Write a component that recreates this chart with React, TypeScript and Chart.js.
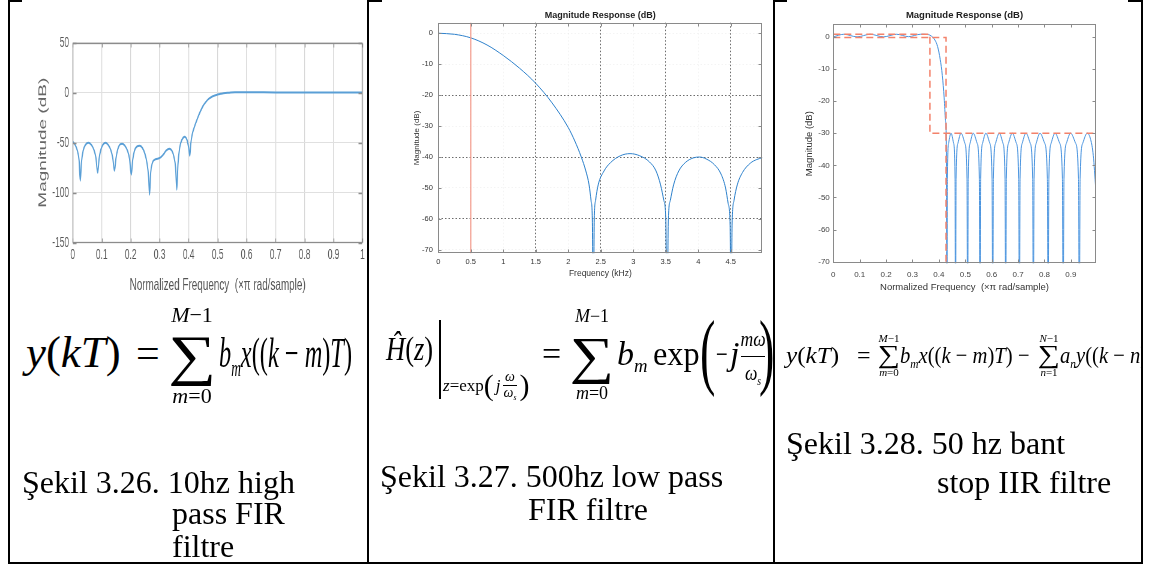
import React, { useEffect, useRef } from 'react';
import { Chart, registerables } from 'chart.js';

Chart.register(...registerables);

const SANS = "'Liberation Sans', Arial, Helvetica, sans-serif";
const SERIF = "'Liberation Serif', 'Times New Roman', Times, serif";

// ---------- Şekil 3.26 : 10 Hz high-pass FIR ----------
const hpFreq = [0, 0.008, 0.016, 0.022, 0.026, 0.03, 0.036, 0.044, 0.054, 0.064, 0.073, 0.08, 0.086, 0.091, 0.097, 0.104, 0.113, 0.122, 0.131, 0.138, 0.144, 0.149, 0.155, 0.162, 0.171, 0.18, 0.189, 0.196, 0.202, 0.207, 0.213, 0.221, 0.231, 0.24, 0.249, 0.256, 0.262, 0.265, 0.269, 0.275, 0.283, 0.292, 0.302, 0.312, 0.322, 0.333, 0.342, 0.349, 0.355, 0.359, 0.363, 0.369, 0.377, 0.386, 0.394, 0.4, 0.404, 0.407, 0.412, 0.42, 0.43, 0.44, 0.45, 0.46, 0.47, 0.48, 0.49, 0.5, 0.51, 0.52, 0.54, 0.56, 0.6, 0.7, 0.8, 0.9, 1.0];
const hpMag = [-49, -52, -58, -68, -88, -70, -58, -52, -50, -52, -57, -65, -80, -66, -57, -52, -50, -52, -57, -65, -78, -66, -57, -52, -51, -53, -58, -66, -82, -67, -58, -54, -53, -55, -61, -70, -85, -102, -80, -70, -67, -66, -65, -62, -58, -56, -58, -64, -75, -97, -72, -55, -47, -44, -47, -55, -63, -52, -42, -34, -26, -19, -13, -9, -6, -4, -2.8, -1.8, -1.1, -0.5, 0, 0.4, 0.5, 0.3, 0.2, 0.2, 0.1];
const hpXTicks = [0, 0.1, 0.2, 0.3, 0.4, 0.5, 0.6, 0.7, 0.8, 0.9, 1];
const hpYTicks = [-150, -100, -50, 0, 50];

// ---------- Şekil 3.27 : 500 Hz low-pass FIR ----------
const lpFreq = [0, 0.25, 0.5, 0.75, 1.0, 1.25, 1.5, 1.75, 2.0, 2.1, 2.2, 2.27, 2.32, 2.35, 2.37, 2.385, 2.4, 2.42, 2.46, 2.55, 2.65, 2.8, 2.95, 3.1, 3.25, 3.35, 3.42, 3.47, 3.5, 3.52, 3.54, 3.57, 3.62, 3.7, 3.8, 3.92, 4.02, 4.12, 4.25, 4.35, 4.42, 4.46, 4.49, 4.505, 4.52, 4.55, 4.6, 4.68, 4.8, 4.9, 4.99];
const lpMag = [0, -0.35, -1.5, -3.8, -7.2, -11.3, -16.2, -22.5, -30.5, -34.8, -40, -44.5, -49, -54, -60, -90, -60, -54, -49, -44.5, -41.8, -39.6, -38.9, -39.6, -41.6, -44.5, -49, -54, -60, -90, -60, -54, -49, -44.5, -41.8, -40.3, -40, -40.6, -42.5, -45.5, -50, -55, -62, -90, -62, -54, -49, -45, -42, -40.8, -40.2];
const lpMarkerX = [0.5, 0.5];
const lpMarkerY = [10, -100];
const lpXTicks = [0, 0.5, 1, 1.5, 2, 2.5, 3, 3.5, 4, 4.5];
const lpYTicks = [-70, -60, -50, -40, -30, -20, -10, 0];
const lpStrongX = [1.5, 2.5, 3.5, 4.5];
const lpStrongY = [-20, -40, -60];

// ---------- Şekil 3.28 : 50 Hz band-stop IIR ----------
const bsFreq = [0, 0.04, 0.09, 0.14, 0.19, 0.24, 0.285, 0.33, 0.36, 0.372, 0.385, 0.395, 0.405, 0.413, 0.42, 0.425, 0.4285, 0.4305,
  0.4321, 0.4372, 0.446, 0.4554, 0.4613, 0.463,
  0.4651, 0.4725, 0.484, 0.4978, 0.5065, 0.509,
  0.5111, 0.5186, 0.53, 0.5443, 0.5534, 0.556,
  0.5582, 0.5659, 0.578, 0.5923, 0.6014, 0.604,
  0.6065, 0.6152, 0.629, 0.6422, 0.6506, 0.653,
  0.6555, 0.6642, 0.678, 0.6929, 0.7023, 0.705,
  0.7075, 0.7162, 0.73, 0.7454, 0.7552, 0.758,
  0.7605, 0.7692, 0.783, 0.8, 0.8109, 0.814,
  0.8166, 0.8257, 0.84, 0.857, 0.8679, 0.871,
  0.8738, 0.8836, 0.899, 0.9172, 0.9287, 0.932,
  0.935, 0.9455, 0.962, 0.975, 0.985, 0.994];
const bsMag = [0, 0.8, 0, 0.8, 0, 0.8, 0.05, 0.8, 0.7, 0.2, -1, -3, -7, -12, -19, -26, -35, -90,
  -44, -33, -30, -33, -44, -90,
  -44, -33, -30, -33, -44, -90,
  -44, -33, -30, -33, -44, -90,
  -44, -33, -30, -33, -44, -90,
  -44, -33, -30, -33, -44, -90,
  -44, -33, -30, -33, -44, -90,
  -44, -33, -30, -33, -44, -90,
  -44, -33, -30, -33, -44, -90,
  -44, -33, -30, -33, -44, -90,
  -44, -33, -30, -33, -44, -90,
  -44, -33, -30, -32, -37, -47];
const bsMaskUpperX = [0, 0.366, 0.366, 1.0];
const bsMaskUpperY = [0.8, 0.8, -30, -30];
const bsMaskLowerX = [0, 0.427, 0.427];
const bsMaskLowerY = [-0.2, -0.2, -75];
const bsXTicks = [0, 0.1, 0.2, 0.3, 0.4, 0.5, 0.6, 0.7, 0.8, 0.9];
const bsYTicks = [-70, -60, -50, -40, -30, -20, -10, 0];

const pts = (xs: number[], ys: number[]) => xs.map((x, i) => ({ x, y: ys[i] }));
const fixTicks = (vals: number[]) => (scale: any) => {
  scale.ticks = vals.map((v) => ({ value: v }));
};
const lbl = (v: any) => String(v);

// MATLAB-like axes box with inward tick marks
const matBox = {
  id: 'matBox',
  afterDatasetsDraw(chart: any, _a: any, opts: any) {
    const { ctx, chartArea } = chart;
    const xs = chart.scales.x;
    const ys = chart.scales.y;
    const L = Math.round(chartArea.left) + 0.5;
    const R = Math.round(chartArea.right) - 0.5;
    const T = Math.round(chartArea.top) + 0.5;
    const B = Math.round(chartArea.bottom) - 0.5;
    const len = opts.len ?? 3;
    const lenX = opts.lenX ?? len;
    ctx.save();
    ctx.strokeStyle = opts.color || '#888';
    ctx.lineWidth = opts.width || 1;
    ctx.setLineDash([]);
    ctx.strokeRect(L, T, R - L, B - T);
    ctx.beginPath();
    xs.ticks.forEach((t: any) => {
      const p = Math.round(xs.getPixelForValue(t.value)) + 0.5;
      ctx.moveTo(p, B); ctx.lineTo(p, B - len);
      ctx.moveTo(p, T); ctx.lineTo(p, T + len);
    });
    ys.ticks.forEach((t: any) => {
      const p = Math.round(ys.getPixelForValue(t.value)) + 0.5;
      ctx.moveTo(L, p); ctx.lineTo(L + lenX, p);
      ctx.moveTo(R, p); ctx.lineTo(R - lenX, p);
    });
    ctx.stroke();
    ctx.restore();
  },
};

const baseOpts = {
  animation: false,
  responsive: false,
  devicePixelRatio: 1,
  events: [],
};

// chart 1 is drawn on a wider canvas and squeezed horizontally (like the reference picture)
const HP_SX = 0.6;

function makeHp(): any {
  return {
    type: 'line',
    data: {
      datasets: [{ data: pts(hpFreq, hpMag), borderColor: '#5a9fd6', borderWidth: 2, pointRadius: 0, cubicInterpolationMode: 'monotone', fill: false }],
    },
    options: {
      ...baseOpts,
      layout: { padding: { top: 17.7, right: 7.5, left: 0, bottom: 0 }, autoPadding: false },
      plugins: { legend: { display: false }, tooltip: { enabled: false }, title: { display: false }, matBox: { color: '#8c8c8c', len: 4, lenX: 6, width: 1.3 } },
      scales: {
        x: {
          type: 'linear', min: 0, max: 1,
          afterBuildTicks: fixTicks(hpXTicks),
          afterFit: (s: any) => { s.height = 62.3; },
          ticks: { padding: 3.9, color: '#555', font: { family: SANS, size: 14 }, callback: lbl, maxRotation: 0, autoSkip: false },
          grid: { color: '#d6d6d6', drawTicks: false, lineWidth: 1.3 },
          border: { display: false },
          title: { display: true, text: 'Normalized Frequency  (×π rad/sample)', color: '#555', font: { family: SANS, size: 16.5 }, padding: { top: 0, bottom: 10.1 } },
        },
        y: {
          type: 'linear', min: -150, max: 50,
          afterBuildTicks: fixTicks(hpYTicks),
          afterFit: (s: any) => { s.width = 96.2; },
          ticks: { padding: 6.2, color: '#555', font: { family: SANS, size: 14 }, callback: lbl, autoSkip: false },
          grid: { color: '#e0e0e0', drawTicks: false, lineWidth: 1 },
          border: { display: false },
          title: { display: true, text: 'Magnitude (dB)', color: '#666', font: { family: SANS, size: 19 }, padding: { top: 35.3, bottom: 0 } },
        },
      },
    },
    plugins: [matBox],
  };
}

function makeLp(): any {
  const gridColor = (strong: number[]) => (c: any) =>
    c.tick && strong.includes(c.tick.value) ? 'rgba(50,50,50,0.9)' : 'rgba(0,0,0,0.06)';
  return {
    type: 'line',
    data: {
      datasets: [
        { data: pts(lpMarkerX, lpMarkerY), borderColor: '#f39b8c', borderWidth: 1.2, pointRadius: 0, fill: false },
        { data: pts(lpFreq, lpMag), borderColor: '#2f82cc', borderWidth: 1, pointRadius: 0, cubicInterpolationMode: 'monotone', fill: false },
      ],
    },
    options: {
      ...baseOpts,
      layout: { padding: { top: 0, right: 7.7, left: 0, bottom: 0 }, autoPadding: false },
      plugins: {
        legend: { display: false }, tooltip: { enabled: false },
        title: { display: true, fullSize: false, text: 'Magnitude Response (dB)', color: '#222', font: { family: SANS, size: 9, weight: 'bold' }, padding: { top: 10.3, bottom: 1.6 } },
        matBox: { color: '#8a8a8a', len: 3 },
      },
      scales: {
        x: {
          type: 'linear', min: 0, max: 4.985,
          afterBuildTicks: fixTicks(lpXTicks),
          afterFit: (s: any) => { s.height = 36.7; },
          ticks: { padding: 4.2, color: '#333', font: { family: SANS, size: 7.5 }, callback: lbl, maxRotation: 0, autoSkip: false },
          grid: { color: gridColor(lpStrongX), drawTicks: false, lineWidth: 0.8 },
          border: { display: false, dash: [1.5, 2] },
          title: { display: true, text: 'Frequency (kHz)', color: '#333', font: { family: SANS, size: 8.5 }, padding: { top: 0, bottom: 10.9 } },
        },
        y: {
          type: 'linear', min: -71.1, max: 3.4,
          afterBuildTicks: fixTicks(lpYTicks),
          afterFit: (s: any) => { s.width = 43.3; },
          ticks: { padding: 5.5, color: '#333', font: { family: SANS, size: 7.5 }, callback: lbl, autoSkip: false },
          grid: { color: gridColor(lpStrongY), drawTicks: false, lineWidth: 0.8 },
          border: { display: false, dash: [1.5, 2] },
          title: { display: true, text: 'Magnitude (dB)', color: '#333', font: { family: SANS, size: 8 }, padding: { top: 17.2, bottom: 0 } },
        },
      },
    },
    plugins: [matBox],
  };
}

function makeBs(): any {
  return {
    type: 'line',
    data: {
      datasets: [
        { data: pts(bsMaskUpperX, bsMaskUpperY), borderColor: '#f3826b', borderWidth: 1.5, borderDash: [7, 4], pointRadius: 0, fill: false },
        { data: pts(bsMaskLowerX, bsMaskLowerY), borderColor: '#f3826b', borderWidth: 1.5, borderDash: [7, 4], pointRadius: 0, fill: false },
        { data: pts(bsFreq, bsMag), borderColor: '#4a94df', borderWidth: 1, pointRadius: 0, cubicInterpolationMode: 'monotone', fill: false },
      ],
    },
    options: {
      ...baseOpts,
      layout: { padding: { top: 0, right: 24.3, left: 0, bottom: 0 }, autoPadding: false },
      plugins: {
        legend: { display: false }, tooltip: { enabled: false },
        title: { display: true, fullSize: false, text: 'Magnitude Response (dB)', color: '#222', font: { family: SANS, size: 9.5, weight: 'bold' }, padding: { top: 10, bottom: 2.6 } },
        matBox: { color: '#8a8a8a', len: 3 },
      },
      scales: {
        x: {
          type: 'linear', min: 0, max: 0.994,
          afterBuildTicks: fixTicks(bsXTicks),
          afterFit: (s: any) => { s.height = 36.7; },
          ticks: { padding: 6.9, color: '#444', font: { family: SANS, size: 8 }, callback: lbl, maxRotation: 0, autoSkip: false },
          grid: { display: false, drawTicks: false },
          border: { display: false },
          title: { display: true, text: 'Normalized Frequency  (×π rad/sample)', color: '#333', font: { family: SANS, size: 9.5 }, padding: { top: 0, bottom: 7.3 } },
        },
        y: {
          type: 'linear', min: -70.5, max: 4,
          afterBuildTicks: fixTicks(bsYTicks),
          afterFit: (s: any) => { s.width = 53.3; },
          ticks: { padding: 3.5, color: '#444', font: { family: SANS, size: 8 }, callback: lbl, autoSkip: false },
          grid: { display: false, drawTicks: false },
          border: { display: false },
          title: { display: true, text: 'Magnitude (dB)', color: '#333', font: { family: SANS, size: 9.5 }, padding: { top: 23.3, bottom: 0 } },
        },
      },
    },
    plugins: [matBox],
  };
}

function ChartCanvas({ left, top, width, height, make, sx = 1 }: { left: number; top: number; width: number; height: number; make: () => any; sx?: number }) {
  const ref = useRef<HTMLCanvasElement>(null);
  useEffect(() => {
    const c = new Chart(ref.current as HTMLCanvasElement, make());
    return () => c.destroy();
  }, []);
  return (
    <canvas
      ref={ref}
      width={width}
      height={height}
      style={{ position: 'absolute', left, top, width, height, transform: sx !== 1 ? `scaleX(${sx})` : undefined, transformOrigin: '0 0' }}
    />
  );
}

// positioned piece of formula text; cy is the visual centre line
function Tx({ x, cy, size, sx = 1, center = false, ls = 0, children }: any) {
  return (
    <div
      style={{
        position: 'absolute', left: x, top: cy - 0.6 * size, fontSize: size, lineHeight: 1, whiteSpace: 'nowrap',
        fontFamily: SERIF, letterSpacing: ls,
        transform: center ? `translateX(-50%) scaleX(${sx})` : `scaleX(${sx})`,
        transformOrigin: center ? '50% 50%' : '0 50%',
      }}
    >
      {children}
    </div>
  );
}

const Sub = ({ children }: any) => (
  <span style={{ fontSize: '0.55em', position: 'relative', top: '0.4em' }}>{children}</span>
);

function SumAt({ cx, topY, sigY, botY, sub, size, top, bottom }: any) {
  return (
    <>
      <Tx x={cx} cy={topY} size={sub} center>{top}</Tx>
      <Tx x={cx} cy={sigY} size={size} sx={1.2} center>∑</Tx>
      <Tx x={cx} cy={botY} size={sub} center>{bottom}</Tx>
    </>
  );
}

const captions = [
  { t: 'Şekil 3.26. 10hz high', x: 22, y: 466 },
  { t: 'pass FIR', x: 172, y: 497 },
  { t: 'filtre', x: 172, y: 530 },
  { t: 'Şekil 3.27. 500hz low pass', x: 380, y: 460 },
  { t: 'FIR filtre', x: 528, y: 493 },
  { t: 'Şekil 3.28. 50 hz bant', x: 786, y: 427 },
  { t: 'stop IIR filtre', x: 937, y: 466 },
];

const blk = (left: number, top: number, width: number, height: number) => (
  <div style={{ position: 'absolute', left, top, width, height, background: '#000' }} />
);

export default function App() {
  return (
    <div style={{ position: 'fixed', left: 0, top: 0, width: 1156, height: 565, background: '#fff', overflow: 'hidden', fontFamily: SERIF, color: '#000' }}>
      <ChartCanvas left={15} top={25} width={587} height={280} sx={HP_SX} make={makeHp} />
      <ChartCanvas left={395} top={0} width={375} height={290} make={makeLp} />
      <ChartCanvas left={780} top={0} width={340} height={300} make={makeBs} />

      {/* left formula */}
      <Tx x={26} cy={357} size={44} sx={1.02}><i>y</i>(<i>kT</i>)</Tx>
      <Tx x={136} cy={357} size={42}>=</Tx>
      <SumAt cx={192} topY={317} sigY={361} botY={398} sub={22} size={56} top={<><i>M</i>−1</>} bottom={<><i>m</i>=0</>} />
      <Tx x={219} cy={357} size={42} sx={0.58}><i>b</i><Sub><i>m</i></Sub><i>x</i>((<i>k</i> − <i>m</i>)<i>T</i>)</Tx>

      {/* middle formula */}
      <Tx x={386} cy={352} size={34} sx={0.78}><i>Ĥ</i>(<i>z</i>)</Tx>
      {blk(439, 320, 1.5, 79)}
      <div style={{ position: 'absolute', left: 443, top: 365, height: 40, display: 'flex', alignItems: 'center', fontFamily: SERIF, fontSize: 17, lineHeight: 1, whiteSpace: 'nowrap' }}>
        <span><i>z</i>=exp</span>
        <span style={{ fontSize: 30 }}>(</span>
        <span style={{ marginLeft: 2 }}><i>j</i></span>
        <span style={{ display: 'inline-flex', flexDirection: 'column', alignItems: 'center', fontSize: 14, lineHeight: 1.05, margin: '0 2px' }}>
          <span><i>ω</i></span>
          <span style={{ borderTop: '1px solid #000', padding: '0 1px' }}><i>ω</i><Sub><i>s</i></Sub></span>
        </span>
        <span style={{ fontSize: 30 }}>)</span>
      </div>
      <Tx x={542} cy={357} size={34}>=</Tx>
      <SumAt cx={592} topY={318} sigY={361} botY={395} sub={18} size={52} top={<><i>M</i>−1</>} bottom={<><i>m</i>=0</>} />
      <Tx x={617} cy={357} size={34}><i>b</i><Sub><i>m</i></Sub></Tx>
      <Tx x={653} cy={357} size={34} sx={0.95}>exp</Tx>
      <Tx x={700} cy={359} size={84} sx={0.55}>(</Tx>
      <Tx x={716} cy={357} size={30} sx={0.7}>−</Tx>
      <Tx x={730} cy={357} size={34}><i>j</i></Tx>
      <Tx x={753} cy={341} size={22} sx={0.8} center><i>m</i><i>ω</i></Tx>
      {blk(741, 356, 24, 1)}
      <Tx x={753} cy={375} size={22} sx={0.8} center><i>ω</i><Sub><i>s</i></Sub></Tx>
      <Tx x={759} cy={359} size={84} sx={0.55}>)</Tx>

      {/* right formula (clipped by the cell) */}
      <div style={{ position: 'absolute', left: 0, top: 0, width: 1141, height: 565, overflow: 'hidden' }}>
        <Tx x={786} cy={357} size={24} sx={1.05}><i>y</i>(<i>kT</i>)</Tx>
        <Tx x={857} cy={357} size={24}>=</Tx>
        <SumAt cx={889} topY={340} sigY={358} botY={374} sub={11} size={26} top={<><i>M</i>−1</>} bottom={<><i>m</i>=0</>} />
        <Tx x={900} cy={357} size={24} sx={0.86}><i>b</i><Sub><i>m</i></Sub><i>x</i>((<i>k</i> − <i>m</i>)<i>T</i>) −</Tx>
        <SumAt cx={1049} topY={340} sigY={358} botY={374} sub={11} size={26} top={<><i>N</i>−1</>} bottom={<><i>n</i>=1</>} />
        <Tx x={1060} cy={357} size={24} sx={0.86}><i>a</i><Sub><i>n</i></Sub><i>y</i>((<i>k</i> − <i>n</i>)<i>T</i>)</Tx>
      </div>

      {captions.map((c, i) => (
        <div key={i} style={{ position: 'absolute', left: c.x, top: c.y, fontFamily: SERIF, fontSize: 32, lineHeight: '32px', whiteSpace: 'nowrap' }}>{c.t}</div>
      ))}

      {/* table rules */}
      {blk(8, 0, 2, 564)}
      {blk(367, 0, 2, 564)}
      {blk(773, 0, 2, 564)}
      {blk(1141, 0, 2, 564)}
      {blk(8, 562, 1135, 2)}
      {blk(8, 0, 14, 2)}
      {blk(367, 0, 15, 2)}
      {blk(773, 0, 14, 2)}
      {blk(1128, 0, 15, 2)}
    </div>
  );
}
